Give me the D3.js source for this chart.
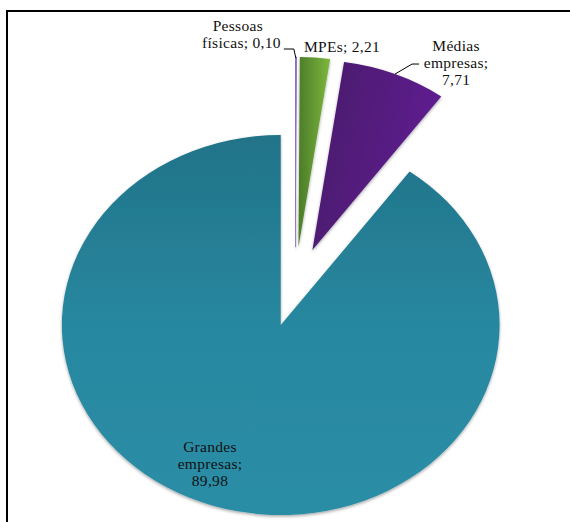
<!DOCTYPE html>
<html>
<head>
<meta charset="utf-8">
<script src="https://cdn.jsdelivr.net/npm/d3@7"></script>
<style>
  body { margin: 0; background: #fff; }
  svg text { font-family: "Liberation Serif", "Times New Roman", serif; font-size: 15.5px; fill: #111; letter-spacing: 0.3px; }
</style>
</head>
<body>
<svg width="570" height="522"></svg>
<script>
// data
const categories = ["Pessoas físicas", "MPEs", "Médias empresas", "Grandes empresas"];
const values = [0.10, 2.21, 7.71, 89.98];
const labelLines = [
  ["Pessoas", "físicas; 0,10"],
  ["MPEs; 2,21"],
  ["Médias", "empresas;", "7,71"],
  ["Grandes", "empresas;", "89,98"]
];

let svg = d3.select("svg");

let cx = 295, cy = 287,
  radius = 190,
  stretch = 1.152,   // chart is drawn wider than tall
  explode = 40;

let defs = svg.append("defs");

let shadow = defs.append("filter").attr("id", "shadow")
  .attr("x", "-10%").attr("y", "-10%").attr("width", "120%").attr("height", "120%");
shadow.append("feDropShadow")
  .attr("dx", 0).attr("dy", 1.5)
  .attr("stdDeviation", 1.5)
  .attr("flood-color", "#000")
  .attr("flood-opacity", 0.35);

function gradient(id, stops, x2, y2) {
  let g = defs.append("linearGradient").attr("id", id)
    .attr("x1", 0).attr("y1", 0).attr("x2", x2).attr("y2", y2);
  stops.forEach(function (s, i) {
    g.append("stop").attr("offset", i / (stops.length - 1)).attr("stop-color", s);
  });
}
gradient("g0", ["#7b5bb8", "#9b7fd4"], 1, 0);
gradient("g1", ["#4c7c2a", "#7cb83c"], 1, 0);
gradient("g2", ["#481869", "#5f1f90"], 1, 0.3);
gradient("g3", ["#217388", "#2888a0", "#2a8da6"], 0, 1);

let fills = ["url(#g0)", "url(#g1)", "url(#g2)", "url(#g3)"];

// frame (only top and left edges fall inside the picture)
svg.append("path")
  .attr("d", "M7,522 V11 H570")
  .attr("fill", "none")
  .attr("stroke", "#000")
  .attr("stroke-width", 2);

let pie = d3.pie().sort(null).value(function (d) { return d; });
let arcs = pie(values);

let arc = d3.arc().innerRadius(0).outerRadius(radius);

function mid(d) { return (d.startAngle + d.endAngle) / 2; }

// point on the (stretched, exploded) pie at radius r along the slice middle
function pt(d, r) {
  let a = mid(d);
  return [cx + Math.sin(a) * r * stretch, cy - Math.cos(a) * r];
}

let chart = svg.append("g")
  .attr("transform", "translate(" + cx + "," + cy + ") scale(" + stretch + ",1)");

chart.selectAll("path.slice")
  .data(arcs)
  .enter().append("path")
  .attr("class", "slice")
  .attr("d", arc)
  .attr("fill", function (d, i) { return fills[i]; })
  .attr("stroke", function (d, i) { return i === 0 ? "#8a6cc6" : "none"; })
  .attr("stroke-width", function (d, i) { return i === 0 ? 0.8 : 0; })
  .attr("filter", "url(#shadow)")
  .attr("transform", function (d) {
    let a = mid(d);
    return "translate(" + (Math.sin(a) * explode) + "," + (-Math.cos(a) * explode) + ")";
  });

// labels
let outer = radius + explode;
let lineH = 17;

function textBlock(lines, x, yLast, anchor) {
  let t = svg.append("text").attr("text-anchor", anchor);
  lines.forEach(function (l, i) {
    t.append("tspan")
      .attr("x", x)
      .attr("y", yLast - (lines.length - 1 - i) * lineH)
      .text(l);
  });
  return t;
}

// Pessoas físicas
let p0 = pt(arcs[0], outer - 1);
svg.append("path")
  .attr("d", "M" + p0[0] + "," + p0[1] + " L" + (p0[0] - 2) + "," + (p0[1] - 9) + " H" + (p0[0] - 12))
  .attr("fill", "none").attr("stroke", "#000").attr("stroke-width", 1);
let t0 = textBlock(labelLines[0], p0[0] - 58, p0[1] - 10, "middle");
t0.select("tspan:last-child").attr("x", p0[0] - 15).attr("text-anchor", "end");

// MPEs
let p1 = pt(arcs[1], outer);
textBlock(labelLines[1], p1[0] + 27, p1[1] - 6, "middle");

// Médias empresas
let p2 = pt(arcs[2], outer);
svg.append("path")
  .attr("d", "M" + p2[0] + "," + p2[1] + " L" + (p2[0] + 17) + "," + (p2[1] - 10) + " H" + (p2[0] + 24))
  .attr("fill", "none").attr("stroke", "#000").attr("stroke-width", 1);
textBlock(labelLines[2], p2[0] + 61, p2[1] + 11, "middle");

// Grandes empresas
textBlock(labelLines[3], 210, 486, "middle");
</script>
</body>
</html>
